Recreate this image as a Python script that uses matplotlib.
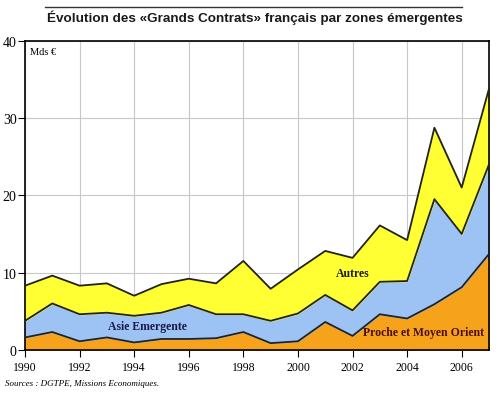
import numpy as np
import matplotlib.pyplot as plt

# %%

years = np.arange(1990, 2008)
# cumulative tops (Mds EUR)
proche_orient = [1.6, 2.3, 1.1, 1.6, 0.95, 1.4, 1.4, 1.5, 2.3, 0.86, 1.1, 3.6, 1.8, 4.6, 4.05, 5.9, 8.1, 12.4]
asie_top = [3.75, 6.0, 4.6, 4.8, 4.4, 4.8, 5.8, 4.6, 4.6, 3.75, 4.7, 7.1, 5.1, 8.8, 8.9, 19.5, 15.0, 24.0]
autres_top = [8.3, 9.6, 8.3, 8.6, 7.0, 8.5, 9.2, 8.6, 11.5, 7.9, 10.4, 12.8, 11.9, 16.1, 14.2, 28.75, 21.0, 33.8]

x_ticks = list(range(1990, 2007, 2))
y_ticks = [0, 10, 20, 30, 40]

serif = ['Liberation Serif', 'DejaVu Serif']

fig = plt.figure(figsize=(5, 4.06), dpi=100)
ax = fig.add_axes([0.05, 0.136, 0.928, 0.761])

ax.fill_between(years, 0, proche_orient, color='#F7A21B', zorder=2)
ax.fill_between(years, proche_orient, asie_top, color='#9DC3F5', zorder=2)
ax.fill_between(years, asie_top, autres_top, color='#FFFF33', zorder=2)
for s in [proche_orient, asie_top, autres_top]:
    ax.plot(years, s, color='#222222', lw=1.3, zorder=3)

ax.set_xlim(1990, 2007)
ax.set_ylim(0, 40)
ax.set_xticks(x_ticks)
ax.set_yticks(y_ticks)
ax.grid(color='#c8c8c8', lw=0.8, zorder=0)
ax.set_axisbelow(True)
for sp in ax.spines.values():
    sp.set_linewidth(1.2)
for lab in ax.get_xticklabels():
    lab.set_family(serif)
    lab.set_fontsize(8.5)
for lab in ax.get_yticklabels():
    lab.set_family(serif)
    lab.set_fontsize(10)
ax.tick_params(axis='y', length=5, pad=1)
ax.tick_params(axis='x', length=5, pad=3)

ax.text(1990.2, 38.3, 'Mds €', family=serif, fontsize=7.5)
ax.text(1994.5, 3.1, 'Asie Emergente', family=serif, fontsize=8.5, fontweight='bold',
        color='#1a1a4a', ha='center', va='center')
ax.text(2002.0, 9.95, 'Autres', family=serif, fontsize=8.5, fontweight='bold',
        color='#1a1a1a', ha='center', va='center')
ax.text(2004.6, 2.25, 'Proche et Moyen Orient', family=serif, fontsize=8.5, fontweight='bold',
        color='#4a0f0f', ha='center', va='center')

fig.text(0.51, 0.957, 'Évolution des «Grands Contrats» français par zones émergentes',
         family=['Liberation Sans', 'DejaVu Sans'], fontsize=9.7,
         fontweight='bold', ha='center', va='center', color='#1a1a1a')
fig.add_artist(plt.Line2D([0.09, 0.924], [0.981, 0.981], color='#333333', lw=1))
fig.text(0.01, 0.05, 'Sources : DGTPE, Missions Economiques.', family=serif,
         fontsize=6.5, style='italic')

fig.savefig('out.png')
